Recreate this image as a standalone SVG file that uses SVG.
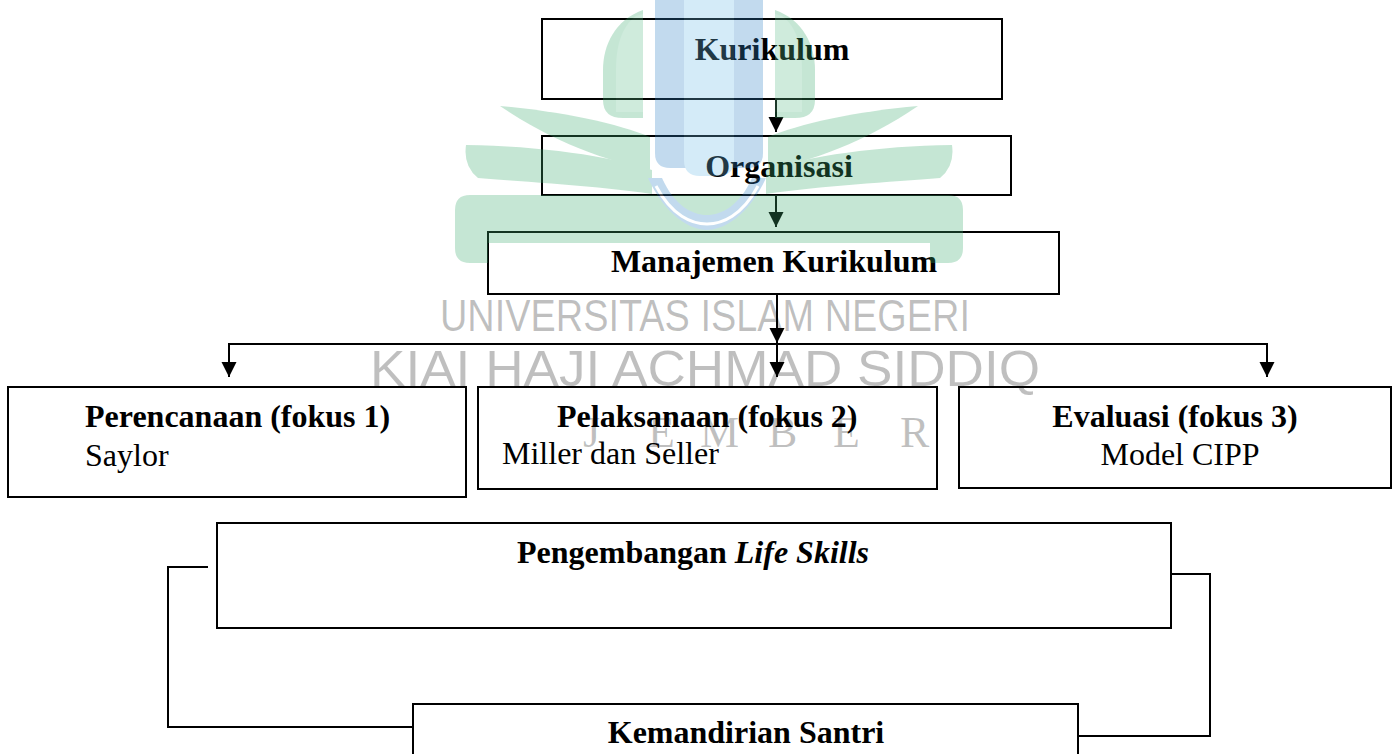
<svg xmlns="http://www.w3.org/2000/svg" width="1394" height="754" viewBox="0 0 1394 754">
  <defs>
    <marker id="arrow" markerUnits="userSpaceOnUse" markerWidth="16" markerHeight="16" refX="15" refY="7.5" orient="auto">
      <path d="M0,0 L15,7.5 L0,15 Z" fill="#000"/>
    </marker>
    <!-- one half of the emblem: upright leaf and two sweeping wings -->
    <g id="half">
      <path d="M643,10 C615,20 603,45 603,70 L603,100 Q603,118 623,118 L643,118 Z" fill="#3eac70"/>
      <path d="M636,16 C622,26 616,45 616,70 L616,112 L643,112 L643,14 Z" fill="#7dcaa5" opacity="0.5"/>
      <path d="M500,106 C560,111 620,124 650,137 L650,170 C610,162 552,142 500,106 Z" fill="#3eac70"/>
      <path d="M466,145 C540,146 610,156 652,170 L652,194 C600,186 525,182 478,178 Q463,166 466,145 Z" fill="#3eac70"/>
    </g>
  </defs>
  <style>
    .box{fill:none;stroke:#000;stroke-width:2}
    .link{fill:none;stroke:#000;stroke-width:2}
    .t{font-family:"Liberation Serif","Times New Roman",serif;font-size:32px;fill:#000}
    .b{font-weight:bold}
    .c{text-anchor:middle}
    .wm{font-family:"Liberation Sans",Arial,sans-serif;fill:#000;fill-opacity:0.25}
    .wms{font-family:"Liberation Serif","Times New Roman",serif;fill:#000;fill-opacity:0.25}
  </style>

  <rect width="1394" height="754" fill="#fff"/>

  <!-- connectors -->
  <g id="connectors">
    <path class="link" d="M776,99 V132" marker-end="url(#arrow)"/>
    <path class="link" d="M776,195 V227" marker-end="url(#arrow)"/>
    <path class="link" d="M777,294 V343" marker-end="url(#arrow)"/>
    <path class="link" d="M777,344 H229 V377" marker-end="url(#arrow)"/>
    <path class="link" d="M777,344 V377" marker-end="url(#arrow)"/>
    <path class="link" d="M777,344 H1267 V377" marker-end="url(#arrow)"/>
    <path class="link" d="M208,567 H168 V727 H413"/>
    <path class="link" d="M1171,574 H1210 V736 H1078"/>
  </g>

  <g id="n-kurikulum">
    <rect class="box" x="542" y="19" width="460" height="80"/>
    <text class="t b c" x="772" y="60">Kurikulum</text>
  </g>
  <g id="n-organisasi">
    <rect class="box" x="542" y="136" width="469" height="59"/>
    <text class="t b c" x="779" y="177">Organisasi</text>
  </g>
  <g id="n-manajemen">
    <rect class="box" x="488" y="232" width="571" height="62"/>
    <text class="t b c" x="774" y="272">Manajemen Kurikulum</text>
  </g>
  <g id="n-perencanaan">
    <rect class="box" x="8" y="387" width="458" height="110"/>
    <text class="t b" x="85" y="427">Perencanaan (fokus 1)</text>
    <text class="t" x="85" y="466">Saylor</text>
  </g>
  <g id="n-pelaksanaan">
    <rect class="box" x="478" y="387" width="459" height="102"/>
    <text class="t b" x="557" y="427">Pelaksanaan (fokus 2)</text>
    <text class="t" x="502" y="464">Miller dan Seller</text>
  </g>
  <g id="n-evaluasi">
    <rect class="box" x="959" y="387" width="432" height="101"/>
    <text class="t b c" x="1175" y="427">Evaluasi (fokus 3)</text>
    <text class="t c" x="1180" y="465">Model CIPP</text>
  </g>
  <g id="n-lifeskills">
    <rect class="box" x="217" y="523" width="954" height="105"/>
    <text class="t b c" x="693" y="563">Pengembangan <tspan font-style="italic">Life Skills</tspan></text>
  </g>
  <g id="n-kemandirian">
    <rect class="box" x="413" y="704" width="665" height="70"/>
    <text class="t b c" x="746" y="743">Kemandirian Santri</text>
  </g>

  <!-- translucent emblem laid over the page -->
  <g id="emblem" opacity="0.3">
    <path d="M655,-5 H763 V153 Q763,168 748,168 H670 Q655,168 655,153 Z" fill="#3484c6"/>
    <path d="M684,-5 H734 V160 Q734,176 718,176 H700 Q684,176 684,160 Z" fill="#70bce8"/>
    <use href="#half"/>
    <use href="#half" transform="translate(1418,0) scale(-1,1)"/>
    <path d="M470,195 H948 Q963,195 963,210 V248 Q963,263 948,263 H930 V243 H488 V263 H470 Q455,263 455,248 V210 Q455,195 470,195 Z" fill="#3eac70"/>
    <path d="M648,178 C665,215 690,230 707,230 C724,230 749,215 766,178 L752,178 C740,205 722,215 707,215 C692,215 674,205 662,178 Z" fill="#3484c6"/>
    <path d="M656,186 C672,216 692,224 707,224 C722,224 742,216 758,186" fill="none" stroke="#fff" stroke-width="3"/>
  </g>

  <!-- institution name lettering -->
  <g id="emblem-text">
    <text class="wm" x="440" y="331" font-size="45" textLength="530" lengthAdjust="spacingAndGlyphs">UNIVERSITAS ISLAM NEGERI</text>
    <text class="wm" x="370" y="386" font-size="50" textLength="670" lengthAdjust="spacingAndGlyphs">KIAI HAJI ACHMAD SIDDIQ</text>
    <text class="wms" y="447" font-size="44" x="583 610 648 680 700 745 768 800 833 865 900">J E M B E R</text>
  </g>
</svg>
